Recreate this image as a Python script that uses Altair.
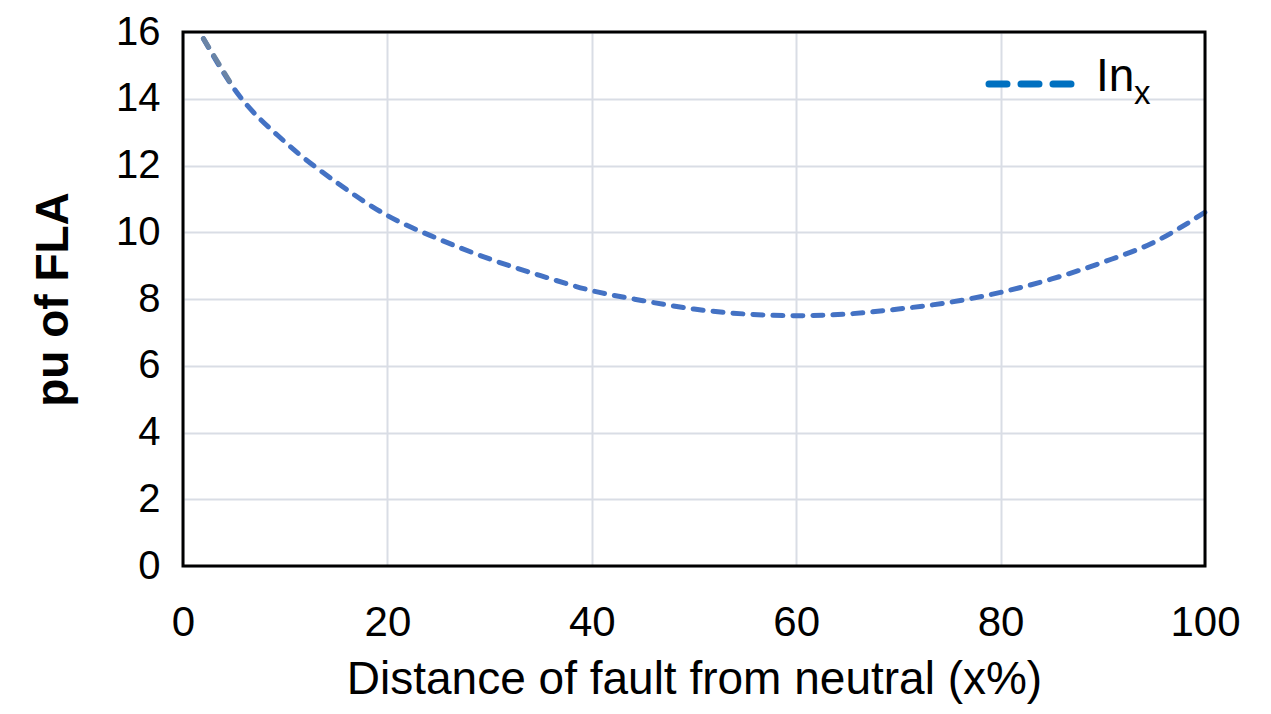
import altair as alt
import pandas as pd

distance = [2, 5, 10, 15, 20, 25, 30, 35, 40, 45, 50, 55, 60, 65, 70, 75, 80, 85, 90, 95, 100]
inx = [15.8, 14.3, 12.7, 11.5, 10.5, 9.8, 9.2, 8.7, 8.25, 7.95, 7.7, 7.55, 7.5, 7.55, 7.7, 7.9, 8.2, 8.6, 9.1, 9.7, 10.6]
x_ticks = [0, 20, 40, 60, 80, 100]
y_ticks = [0, 2, 4, 6, 8, 10, 12, 14, 16]

df = pd.DataFrame({"x": distance, "y": inx})
df_head = df.iloc[:2]

FONT = "Liberation Sans"
W, H = 1022, 534

xs = alt.Scale(domain=[0, 100], nice=False)
ys = alt.Scale(domain=[0, 16], nice=False)

xaxis = alt.Axis(values=x_ticks, title="Distance of fault from neutral (x%)", labelFontSize=42,
                 titleFontSize=46, titleFontWeight="normal", labelColor="#000", titleColor="#000",
                 ticks=False, domain=False, labelPadding=36, titlePadding=14, labelFlush=False,
                 gridColor="#D9DDE5", gridWidth=2, labelFont=FONT, titleFont=FONT)
yaxis = alt.Axis(values=y_ticks, title="pu of FLA", labelFontSize=40, titleFontSize=46,
                 titleFontWeight="bold", labelColor="#000", titleColor="#000",
                 ticks=False, domain=False, labelPadding=23, titlePadding=38, labelFlush=False,
                 gridColor="#D9DDE5", gridWidth=2, labelFont=FONT, titleFont=FONT)

line = alt.Chart(df).mark_line(color="#4472C4", strokeWidth=5, strokeDash=[10, 10],
                               strokeCap="round", interpolate="monotone").encode(
    x=alt.X("x:Q", scale=xs, axis=xaxis),
    y=alt.Y("y:Q", scale=ys, axis=yaxis),
)
head = alt.Chart(df_head).mark_line(color="#6A84A6", strokeWidth=5, strokeDash=[10, 10],
                                    strokeCap="round").encode(x=alt.X("x:Q", scale=xs), y=alt.Y("y:Q", scale=ys))

one = pd.DataFrame({"a": [0]})
frame = alt.Chart(one).mark_rect(fill=None, fillOpacity=0, stroke="#000", strokeWidth=3).encode(
    x=alt.value(0), x2=alt.value(W), y=alt.value(0), y2=alt.value(H))

leg_line = alt.Chart(one).mark_rule(
    color="#0070C0", strokeWidth=7, strokeDash=[18, 14], strokeCap="round").encode(
    x=alt.value(806), x2=alt.value(888), y=alt.value(52))
leg_text = alt.Chart(one).mark_text(
    text="In", font=FONT, fontSize=46, align="left", baseline="alphabetic", color="#000").encode(
    x=alt.value(913), y=alt.value(59))
leg_sub = alt.Chart(one).mark_text(
    text="x", font=FONT, fontSize=33, align="left", baseline="alphabetic", color="#000").encode(
    x=alt.value(951), y=alt.value(72))

chart = alt.layer(line, head, frame, leg_line, leg_text, leg_sub).properties(
    width=W, height=H,
    autosize=alt.AutoSizeParams(type="none"),
    padding={"left": 175, "top": 24, "right": 50, "bottom": 146},
    background="white",
).configure_view(stroke=None)

chart.save("out.html", embed_options={"renderer": "svg", "actions": False})
